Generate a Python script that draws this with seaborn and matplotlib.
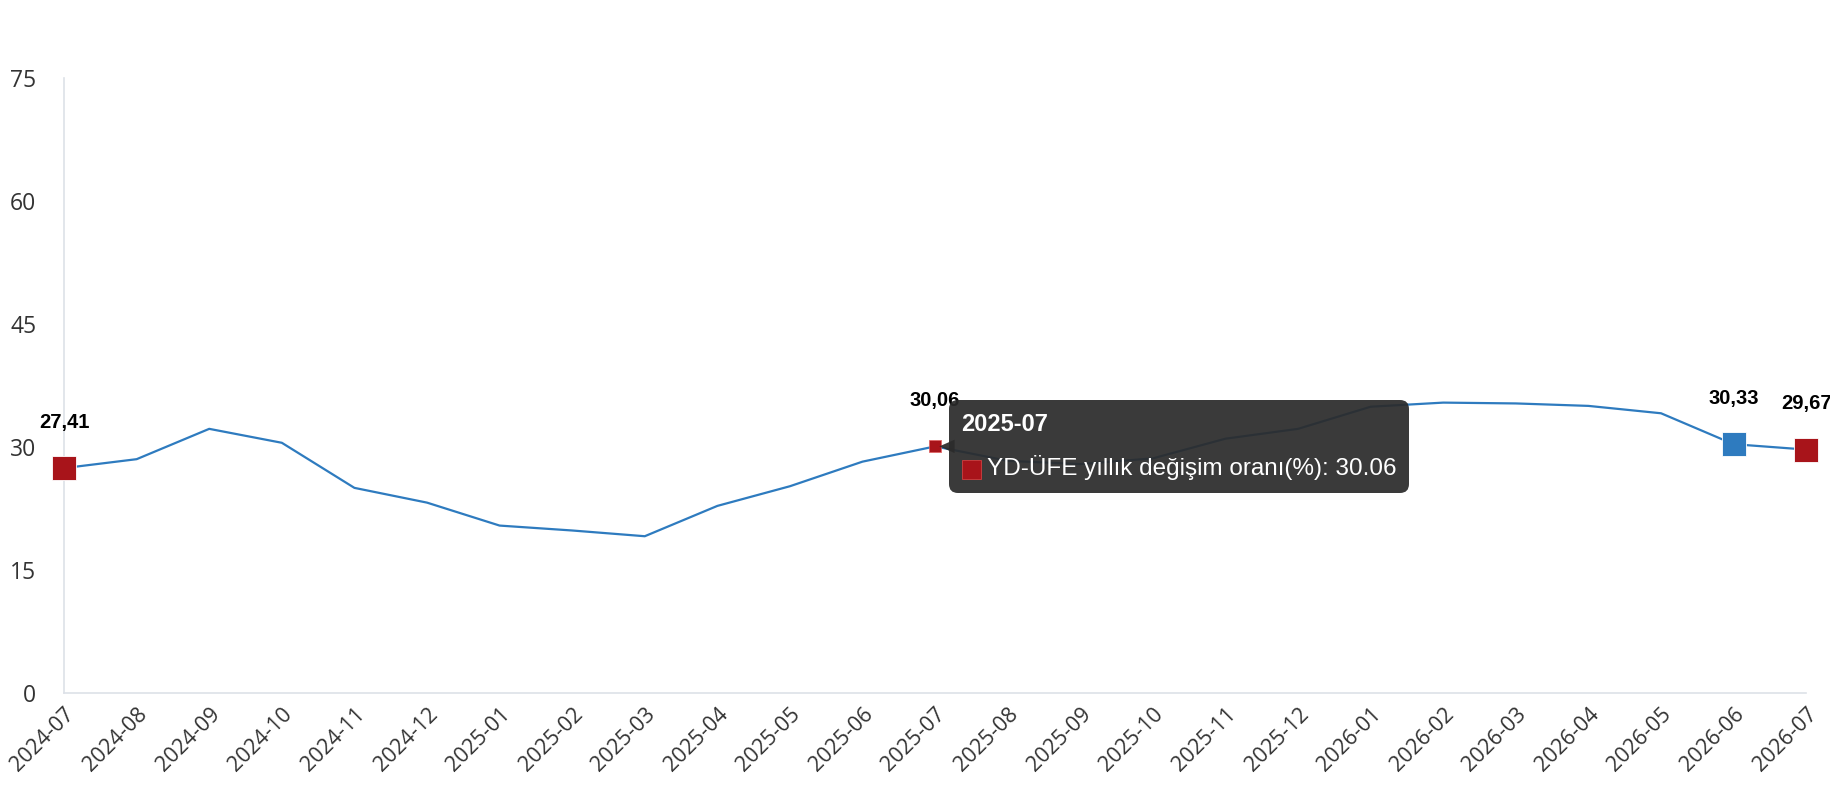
import matplotlib
matplotlib.use("Agg")
import matplotlib.pyplot as plt
import seaborn as sns
import pandas as pd
from matplotlib.offsetbox import AnnotationBbox, TextArea, DrawingArea, HPacker, VPacker
from matplotlib.patches import Rectangle

# monthly values
months = ["2024-07", "2024-08", "2024-09", "2024-10", "2024-11", "2024-12",
          "2025-01", "2025-02", "2025-03", "2025-04", "2025-05", "2025-06",
          "2025-07", "2025-08", "2025-09", "2025-10", "2025-11", "2025-12",
          "2026-01", "2026-02", "2026-03", "2026-04", "2026-05", "2026-06",
          "2026-07"]
values = [27.41, 28.5, 32.2, 30.5, 25.0, 23.2,
          20.4, 19.8, 19.1, 22.8, 25.2, 28.2,
          30.06, 28.3, 27.9, 28.6, 31.0, 32.2,
          34.9, 35.4, 35.3, 35.0, 34.1, 30.33,
          29.67]
yticks = [0, 15, 30, 45, 60, 75]

# highlighted points: month index, marker colour
highlight_idx = [0, 23, 24]
highlight_col = ["#a8141a", "#2e7bbf", "#a8141a"]
hover_idx = 12
series_name = "YD-ÜFE yıllık değişim oranı(%)"

LINE = "#2e7bbf"
RED = "#a8141a"

df = pd.DataFrame({"x": range(len(months)), "month": months, "value": values})

sns.set_theme(style="white")
plt.rcParams["font.family"] = ["Open Sans", "DejaVu Sans"]

fig = plt.figure(figsize=(18.3, 8), dpi=100)
ax = fig.add_axes([0.035, 0.134, 0.952, 0.7685])

sns.lineplot(data=df, x="x", y="value", ax=ax, color=LINE, linewidth=1.6, zorder=2)

# big squares on first / last points
hl = df.iloc[highlight_idx]
ax.scatter(hl["x"], hl["value"], marker="s", s=300, c=highlight_col,
           edgecolors="white", linewidths=0.6, zorder=3, clip_on=False)
# small square on the hovered point
ax.scatter([df.loc[hover_idx, "x"]], [df.loc[hover_idx, "value"]], marker="s", s=85,
           c=RED, edgecolors="#e06060", linewidths=0.5, zorder=3, clip_on=False)

# value labels (turkish decimal comma)
tf = ["Liberation Sans", "DejaVu Sans"]
for i in highlight_idx + [hover_idx]:
    lbl = f"{values[i]:.2f}".replace(".", ",")
    ax.annotate(lbl, (i, values[i]), xytext=(0, 33), textcoords="offset points",
                ha="center", va="center", fontsize=14.5, fontweight="bold",
                family=tf, color="black", zorder=4, annotation_clip=False)

ax.set_xlim(0, len(months) - 1)
ax.set_ylim(0, 75)
ax.set_yticks(yticks)
ax.set_yticklabels([str(t) for t in yticks], fontsize=16.5, color="#333333")
ax.set_xticks(df["x"])
ax.set_xticklabels(months, rotation=45, ha="right", rotation_mode="anchor",
                   fontsize=15.5, color="#333333")
ax.tick_params(axis="x", pad=8, length=0)
ax.tick_params(axis="y", pad=20, length=0)
ax.set_xlabel("")
ax.set_ylabel("")
for s in ["top", "right"]:
    ax.spines[s].set_visible(False)
for s in ["left", "bottom"]:
    ax.spines[s].set_color("#dde1e8")
    ax.spines[s].set_linewidth(1.2)

# tooltip
title = TextArea(months[hover_idx], textprops=dict(color="white", fontsize=17,
                                                   fontweight="bold", family=tf))
swatch = DrawingArea(15, 15, 0, 0)
swatch.add_artist(Rectangle((0, -1), 14, 14, fc=RED, ec="#d04040", lw=0.6))
body = TextArea(f"{series_name}: {values[hover_idx]:.2f}",
                textprops=dict(color="white", fontsize=17.5, family=tf))
row = HPacker(children=[swatch, body], align="center", pad=0, sep=3)
pack = VPacker(children=[title, row], align="left", pad=0, sep=14)
tip = AnnotationBbox(pack, (hover_idx, values[hover_idx]), xybox=(19, 0),
                     xycoords="data", boxcoords="offset points",
                     box_alignment=(0, 0.5), frameon=True,
                     bboxprops=dict(boxstyle="round,pad=0.85,rounding_size=0.6",
                                    fc="#2b2b2b", ec="none", alpha=0.93))
tip.set_zorder(5)
ax.add_artist(tip)

# little notch pointing to the hovered point
ax.annotate("", xy=(hover_idx, values[hover_idx]), xytext=(14, 0),
            textcoords="offset points", zorder=5,
            arrowprops=dict(arrowstyle="wedge,tail_width=0.8,shrink_factor=0.5",
                            fc="#2b2b2b", ec="none", alpha=0.93,
                            shrinkA=0, shrinkB=3))

fig.savefig("out.png", dpi=100, facecolor="white")
